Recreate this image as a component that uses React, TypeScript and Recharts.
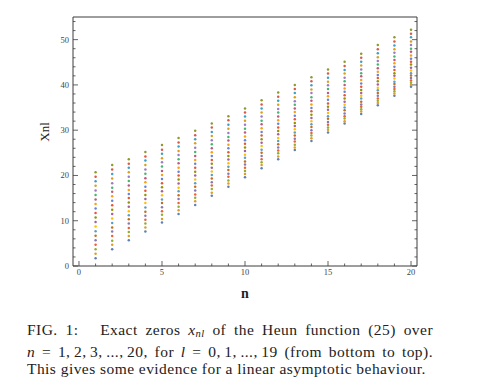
import React from 'react';
import { ScatterChart, Scatter, XAxis, YAxis } from 'recharts';

// zeros x_nl, one list per n, l = 0..19 from bottom to top
const xn1 = [1.7, 2.7, 3.7, 4.7, 5.7, 6.7, 7.7, 8.7, 9.7, 10.7, 11.7, 12.7, 13.7, 14.7, 15.7, 16.7, 17.7, 18.7, 19.7, 20.7];
const xn2 = [3.7, 4.7, 5.6, 6.6, 7.6, 8.5, 9.5, 10.5, 11.5, 12.4, 13.4, 14.4, 15.4, 16.4, 17.3, 18.3, 19.3, 20.3, 21.3, 22.3];
const xn3 = [5.7, 6.6, 7.5, 8.4, 9.4, 10.3, 11.2, 12.1, 13.1, 14.0, 15.0, 15.9, 16.8, 17.8, 18.8, 19.7, 20.7, 21.7, 22.6, 23.6];
const xn4 = [7.6, 8.5, 9.4, 10.2, 11.1, 12.0, 12.9, 13.9, 14.8, 15.7, 16.6, 17.5, 18.5, 19.4, 20.4, 21.3, 22.3, 23.3, 24.2, 25.2];
const xn5 = [9.6, 10.4, 11.3, 12.1, 13.0, 13.9, 14.7, 15.6, 16.5, 17.4, 18.3, 19.2, 20.1, 21.0, 22.0, 22.9, 23.8, 24.8, 25.7, 26.7];
const xn6 = [11.5, 12.3, 13.1, 13.9, 14.8, 15.6, 16.5, 17.3, 18.2, 19.1, 20.0, 20.8, 21.7, 22.7, 23.6, 24.5, 25.4, 26.4, 27.3, 28.3];
const xn7 = [13.5, 14.3, 15.1, 15.8, 16.7, 17.5, 18.3, 19.1, 20.0, 20.8, 21.7, 22.6, 23.4, 24.3, 25.2, 26.1, 27.1, 28.0, 28.9, 29.9];
const xn8 = [15.5, 16.2, 17.0, 17.8, 18.5, 19.3, 20.1, 20.9, 21.7, 22.6, 23.4, 24.3, 25.1, 26.0, 26.9, 27.8, 28.7, 29.6, 30.6, 31.5];
const xn9 = [17.5, 18.2, 18.9, 19.7, 20.4, 21.2, 21.9, 22.7, 23.5, 24.3, 25.1, 26.0, 26.8, 27.7, 28.5, 29.4, 30.3, 31.2, 32.2, 33.1];
const xn10 = [19.6, 20.3, 21.0, 21.7, 22.4, 23.1, 23.9, 24.6, 25.4, 26.2, 27.0, 27.8, 28.6, 29.5, 30.3, 31.2, 32.1, 33.0, 33.9, 34.8];
const xn11 = [21.6, 22.3, 22.9, 23.6, 24.3, 25.0, 25.7, 26.5, 27.2, 28.0, 28.8, 29.6, 30.4, 31.3, 32.1, 33.0, 33.9, 34.8, 35.7, 36.6];
const xn12 = [23.6, 24.2, 24.9, 25.5, 26.2, 26.9, 27.6, 28.3, 29.1, 29.8, 30.6, 31.4, 32.2, 33.0, 33.9, 34.7, 35.6, 36.5, 37.4, 38.3];
const xn13 = [25.6, 26.2, 26.8, 27.5, 28.1, 28.8, 29.5, 30.2, 30.9, 31.6, 32.4, 33.2, 34.0, 34.8, 35.6, 36.4, 37.3, 38.2, 39.1, 40.0];
const xn14 = [27.6, 28.2, 28.8, 29.4, 30.0, 30.7, 31.3, 32.0, 32.7, 33.4, 34.2, 34.9, 35.7, 36.5, 37.3, 38.2, 39.0, 39.9, 40.8, 41.7];
const xn15 = [29.5, 30.1, 30.6, 31.2, 31.8, 32.5, 33.1, 33.8, 34.5, 35.2, 35.9, 36.7, 37.5, 38.2, 39.1, 39.9, 40.7, 41.6, 42.5, 43.4];
const xn16 = [31.5, 32.0, 32.6, 33.1, 33.7, 34.4, 35.0, 35.6, 36.3, 37.0, 37.7, 38.5, 39.2, 40.0, 40.8, 41.6, 42.5, 43.3, 44.2, 45.1];
const xn17 = [33.6, 34.1, 34.6, 35.2, 35.7, 36.3, 37.0, 37.6, 38.2, 38.9, 39.6, 40.3, 41.1, 41.9, 42.6, 43.4, 44.3, 45.1, 46.0, 46.9];
const xn18 = [35.5, 36.0, 36.5, 37.0, 37.6, 38.2, 38.8, 39.4, 40.1, 40.8, 41.5, 42.2, 42.9, 43.7, 44.5, 45.3, 46.1, 47.0, 47.9, 48.8];
const xn19 = [37.6, 38.1, 38.6, 39.1, 39.6, 40.2, 40.7, 41.4, 42.0, 42.6, 43.3, 44.0, 44.8, 45.5, 46.3, 47.1, 47.9, 48.7, 49.6, 50.5];
const xn20 = [39.6, 40.0, 40.5, 41.0, 41.5, 42.1, 42.6, 43.2, 43.8, 44.5, 45.1, 45.8, 46.5, 47.3, 48.0, 48.8, 49.6, 50.5, 51.3, 52.2];

const zerosByN = [xn1, xn2, xn3, xn4, xn5, xn6, xn7, xn8, xn9, xn10,
  xn11, xn12, xn13, xn14, xn15, xn16, xn17, xn18, xn19, xn20];

const nValues = [1, 2, 3, 4, 5, 6, 7, 8, 9, 10, 11, 12, 13, 14, 15, 16, 17, 18, 19, 20];
const lValues = [0, 1, 2, 3, 4, 5, 6, 7, 8, 9, 10, 11, 12, 13, 14, 15, 16, 17, 18, 19];

// frame ticks
const xTicks = [0, 1, 2, 3, 4, 5, 6, 7, 8, 9, 10, 11, 12, 13, 14, 15, 16, 17, 18, 19, 20];
const xMajor = [0, 5, 10, 15, 20];
const yTicks = [0, 2, 4, 6, 8, 10, 12, 14, 16, 18, 20, 22, 24, 26, 28, 30, 32, 34, 36, 38, 40, 42, 44, 46, 48, 50, 52, 54];
const yMajor = [0, 10, 20, 30, 40, 50];

// one colour per l (Mathematica-like default palette)
const lColors = [
  '#5E81B5', '#E19C24', '#8FB032', '#EB6235', '#8778B3',
  '#C56E1A', '#5D9EC7', '#FFBF00', '#A5609D', '#929600',
  '#E95536', '#6685D9', '#F89F13', '#BC5B80', '#47B66D',
  '#9E7BC5', '#D9A11B', '#3EA0C7', '#DB5A47', '#8E9A2C',
];

const frameColor = '#3c3c3c';
const tickFont = 'Liberation Serif, Times New Roman, serif';

const series = lValues.map((l) =>
  nValues.map((n, i) => ({ n, x: zerosByN[i][l] }))
);

type Side = 'bottom' | 'top' | 'left' | 'right';

const makeTick = (side: Side, major: number[]) => (props: any) => {
  const { x, y, payload } = props;
  const v = payload.value;
  const isMajor = major.includes(v);
  const len = isMajor ? 5 : 2.5;
  let line;
  if (side === 'bottom') line = <line x1={x} y1={y} x2={x} y2={y - len} />;
  else if (side === 'top') line = <line x1={x} y1={y} x2={x} y2={y + len} />;
  else if (side === 'left') line = <line x1={x} y1={y} x2={x + len} y2={y} />;
  else line = <line x1={x} y1={y} x2={x - len} y2={y} />;

  let label = null;
  if (isMajor && side === 'bottom') {
    label = (
      <text x={x} y={y + 8.5} textAnchor="middle" fontSize={8.5} fill="#444" fontFamily={tickFont}>
        {v}
      </text>
    );
  } else if (isMajor && side === 'left') {
    label = (
      <text x={x - 4} y={y + 3} textAnchor="end" fontSize={8.5} fill="#444" fontFamily={tickFont}>
        {v}
      </text>
    );
  }
  return (
    <g>
      <g stroke={frameColor} strokeWidth={0.8}>{line}</g>
      {label}
    </g>
  );
};

const XLabel = (props: any) => {
  const vb = props.viewBox || { x: 73, y: 266, width: 344 };
  return (
    <text x={vb.x + vb.width / 2} y={vb.y + 32} textAnchor="middle" fontSize={14}
      fontWeight="bold" fontFamily={tickFont} fill="#222">
      n
    </text>
  );
};

const YLabel = (props: any) => {
  const vb = props.viewBox || { x: 43, y: 17, width: 30, height: 249 };
  const cx = vb.x + vb.width - 24;
  const cy = vb.y + 115;
  return (
    <text transform={`translate(${cx},${cy}) rotate(-90)`} textAnchor="middle" fontSize={13}
      fontFamily={tickFont} fill="#222">
      Xnl
    </text>
  );
};

const makeDot = (color: string) => (p: any) => (
  <circle cx={p.cx} cy={p.cy} r={1.25} fill={color} />
);

const xDomain = [-0.36, 20.36];
const yDomain = [0, 55];

export default function App() {
  const captionStyle: React.CSSProperties = {
    width: 406,
    textAlign: 'justify',
    textAlignLast: 'justify',
    whiteSpace: 'nowrap',
  };
  return (
    <div style={{ position: 'absolute', left: 0, top: 0, width: 493, height: 388, background: '#fff' }}>
      <ScatterChart width={493} height={310} margin={{ top: 16, right: 75, bottom: 14, left: 43 }}>
        <XAxis
          dataKey="n"
          type="number"
          domain={xDomain}
          ticks={xTicks}
          interval={0}
          height={30}
          tickSize={0}
          tickMargin={0}
          tickLine={false}
          tick={makeTick('bottom', xMajor)}
          axisLine={{ stroke: frameColor, strokeWidth: 1 }}
          label={<XLabel />}
        />
        <XAxis
          xAxisId="top"
          orientation="top"
          type="number"
          domain={xDomain}
          allowDataOverflow
          ticks={xTicks}
          interval={0}
          height={1}
          tickSize={0}
          tickMargin={0}
          tickLine={false}
          tick={makeTick('top', xMajor)}
          axisLine={{ stroke: frameColor, strokeWidth: 1 }}
        />
        <YAxis
          dataKey="x"
          type="number"
          domain={yDomain}
          ticks={yTicks}
          interval={0}
          width={30}
          tickSize={0}
          tickMargin={0}
          tickLine={false}
          tick={makeTick('left', yMajor)}
          axisLine={{ stroke: frameColor, strokeWidth: 1 }}
          label={<YLabel />}
        />
        <YAxis
          yAxisId="right"
          orientation="right"
          type="number"
          domain={yDomain}
          allowDataOverflow
          ticks={yTicks}
          interval={0}
          width={1}
          tickSize={0}
          tickMargin={0}
          tickLine={false}
          tick={makeTick('right', yMajor)}
          axisLine={{ stroke: frameColor, strokeWidth: 1 }}
        />
        {series.map((data, l) => (
          <Scatter
            key={l}
            name={`l = ${l}`}
            data={data}
            fill={lColors[l]}
            shape={makeDot(lColors[l])}
            isAnimationActive={false}
          />
        ))}
      </ScatterChart>
      <div
        style={{
          position: 'absolute',
          left: 27,
          top: 321,
          fontFamily: tickFont,
          fontSize: 15.5,
          lineHeight: '17.5px',
          letterSpacing: 0.45,
          color: '#222',
        }}
      >
        <div style={captionStyle}>
          FIG. 1:<span style={{ display: 'inline-block', width: 14 }} /> Exact zeros{' '}
          <i>x</i>
          <sub style={{ fontSize: 10.5, verticalAlign: '-2px' }}><i>nl</i></sub> of the Heun function (25) over
        </div>
        <div style={captionStyle}>
          <i>n</i> = 1,{'\u2009'}2,{'\u2009'}3,{'\u2009'}...,{'\u2009'}20, for <i>l</i> = 0,{'\u2009'}1,{'\u2009'}...,{'\u2009'}19 (from bottom to top).
        </div>
        <div>This gives some evidence for a linear asymptotic behaviour.</div>
      </div>
    </div>
  );
}
